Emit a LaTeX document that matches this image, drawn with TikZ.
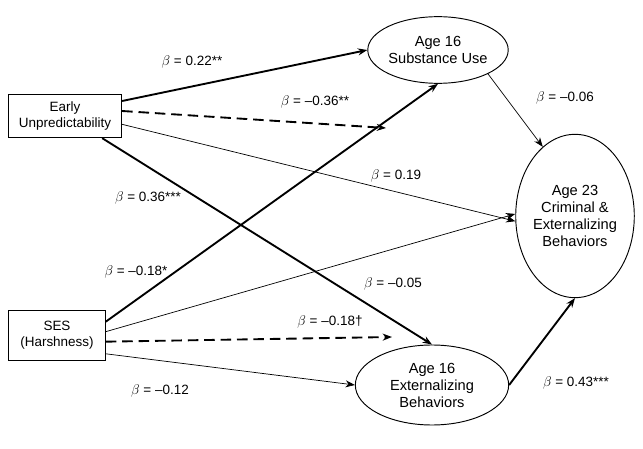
\documentclass[tikz,border=0pt]{standalone}
\usepackage{fontspec}
\setmainfont{Liberation Sans}
\usetikzlibrary{arrows.meta,shapes.geometric}

\begin{document}
\begin{tikzpicture}[x=0.3mm,y=-0.3mm,
    font=\fontsize{11.5}{13.5}\selectfont,
    obs/.style={draw, thick, align=center, minimum height=13mm, inner sep=1pt},
    lat/.style={draw, thick, ellipse, align=center, inner sep=0pt, font=\fontsize{12.5}{14.5}\selectfont},
    path/.style={-{Stealth[length=8pt,width=6pt]}},
    strong/.style={path, line width=1.6pt},
    weak/.style={path, line width=0.6pt},
    inter/.style={path, line width=1.6pt, dash pattern=on 9pt off 5pt},
    coef/.style={inner sep=1pt}]
    \useasboundingbox (0,0) rectangle (643,449);

    % observed predictors
    \node[obs, minimum width=34mm] (eu) at (65,116) {Early\\Unpredictability};
    \node[obs, minimum width=29mm, minimum height=15mm] (ses) at (57,335) {SES\\(Harshness)};

    % mediators and outcome
    \node[lat, minimum width=42mm, minimum height=20mm] (sub) at (438,50) {Age 16\\Substance Use};
    \node[lat, minimum width=46mm, minimum height=24mm] (ext) at (432,385) {Age 16\\Externalizing\\Behaviors};
    \node[lat, minimum width=33mm, minimum height=49mm] (out) at (575,216) {Age 23\\Criminal \&\\Externalizing\\Behaviors};

    % free ends of the interaction paths
    \coordinate (ieu) at (386,128);
    \coordinate (ises) at (392,337);

    % paths from Early Unpredictability
    \draw[strong] ([yshift=4.5mm]eu.east) -- (sub.west);
    \draw[inter] ([yshift=1.5mm]eu.east) -- (ieu);
    \draw[weak] ([yshift=-2.5mm]eu.east) -- (out.185);
    \draw[strong] ([xshift=-6mm]eu.south east) -- (ext.north);

    % paths from SES
    \draw[strong] ([yshift=4mm]ses.east) -- (sub.south);
    \draw[weak] ([yshift=1mm]ses.east) -- (out.178);
    \draw[inter] ([yshift=-2mm]ses.east) -- (ises);
    \draw[weak] ([yshift=2mm]ses.south east) -- (ext.west);

    % paths to the outcome
    \draw[weak] (sub.south east) -- (out.115);
    \draw[strong] (ext.east) -- (out.south);

    % coefficients
    \node[coef] (c1) at (192,62) {$\beta$ = 0.22**};
    \node[coef] (c2) at (315,102) {$\beta$ = --0.36**};
    \node[coef] (c3) at (396,176) {$\beta$ = 0.19};
    \node[coef] (c4) at (148,198) {$\beta$ = 0.36***};
    \node[coef] (c5) at (136,272) {$\beta$ = --0.18*};
    \node[coef] (c6) at (393,284) {$\beta$ = --0.05};
    \node[coef] (c7) at (330,322) {$\beta$ = --0.18\textdagger};
    \node[coef] (c8) at (160,391) {$\beta$ = --0.12};
    \node[coef] (c9) at (565,98) {$\beta$ = --0.06};
    \node[coef] (c10) at (576,383) {$\beta$ = 0.43***};
\end{tikzpicture}
\end{document}
